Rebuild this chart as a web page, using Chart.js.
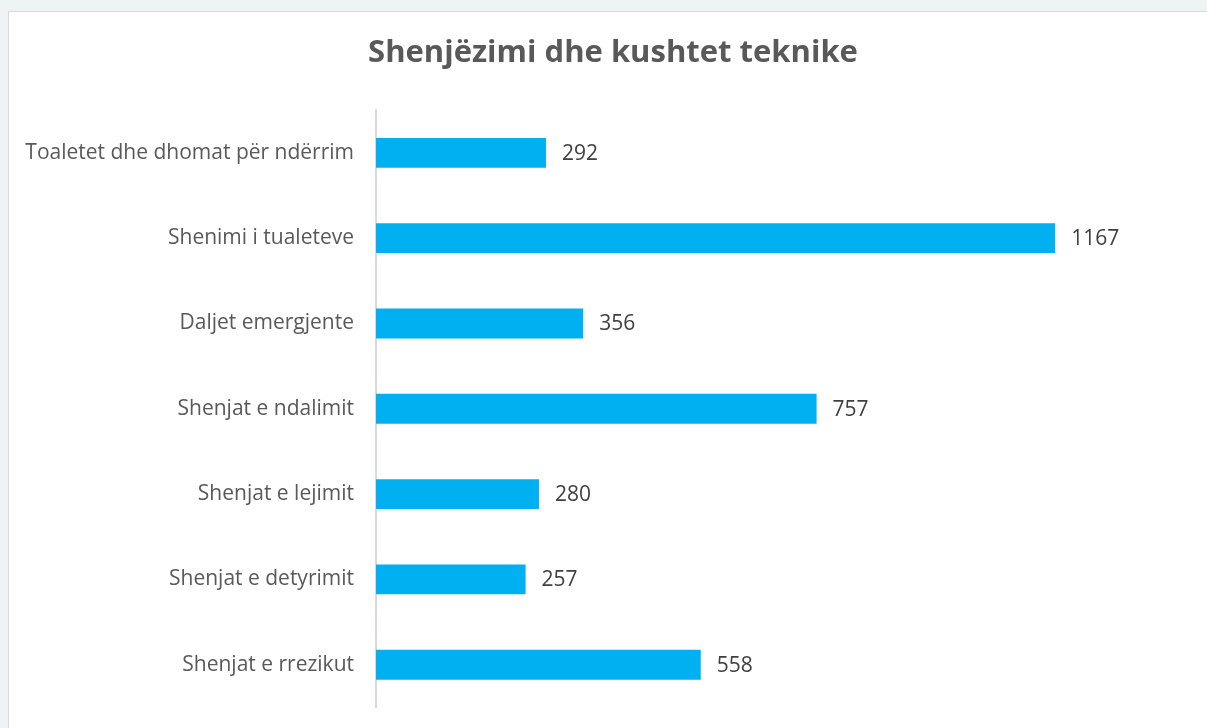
<!DOCTYPE html>
<html>
<head>
<meta charset="utf-8">
<script src="https://cdn.jsdelivr.net/npm/chart.js@4.4.1/dist/chart.umd.min.js"></script>
<style>
  body { margin: 0; background: #eef3f3; overflow: hidden; }
  .panel { position: absolute; left: 8px; top: 11px; width: 1210px; height: 740px; background: #fff; border: 1px solid #d9d9d9; }
  canvas { display: block; }
</style>
</head>
<body>
<div class="panel">
  <canvas id="signChart" width="1208" height="730"></canvas>
</div>
<script>
const categories = [
  'Toaletet dhe dhomat për ndërrim',
  'Shenimi i tualeteve',
  'Daljet emergjente',
  'Shenjat e ndalimit',
  'Shenjat e lejimit',
  'Shenjat e detyrimit',
  'Shenjat e rrezikut'
];
const counts = [292, 1167, 356, 757, 280, 257, 558];

const FONT = "'Open Sans', 'Noto Sans', sans-serif";

// draws the number next to each bar
const valueLabels = {
  id: 'valueLabels',
  afterDatasetsDraw(chart) {
    const ctx = chart.ctx;
    const meta = chart.getDatasetMeta(0);
    ctx.save();
    ctx.font = '21px ' + FONT;
    ctx.fillStyle = '#404040';
    ctx.textAlign = 'left';
    ctx.textBaseline = 'middle';
    meta.data.forEach((bar, i) => {
      ctx.fillText(counts[i], bar.x + 16, bar.y + 1);
    });
    ctx.restore();
  }
};

new Chart(document.getElementById('signChart'), {
  type: 'bar',
  data: {
    labels: categories,
    datasets: [{
      data: counts,
      backgroundColor: '#00b0f0',
      barPercentage: 0.7,
      categoryPercentage: 0.5
    }]
  },
  options: {
    indexAxis: 'y',
    responsive: false,
    animation: false,
    layout: { padding: { left: 0, right: 0, bottom: 34 } },
    plugins: {
      legend: { display: false },
      tooltip: { enabled: false },
      title: {
        display: true,
        text: 'Shenjëzimi dhe kushtet teknike',
        color: '#595959',
        font: { family: FONT, size: 31, weight: 'bold' },
        padding: { top: 23, bottom: 38 }
      }
    },
    scales: {
      x: {
        display: false,
        min: 0,
        max: 1445
      },
      y: {
        grid: { display: false, drawTicks: false },
        border: { display: true, color: '#d9d9d9', width: 2 },
        ticks: {
          color: '#595959',
          padding: 22,
          font: { family: FONT, size: 21 }
        },
        afterFit(scale) { scale.width = 367; }
      }
    }
  },
  plugins: [valueLabels]
});
</script>
</body>
</html>
